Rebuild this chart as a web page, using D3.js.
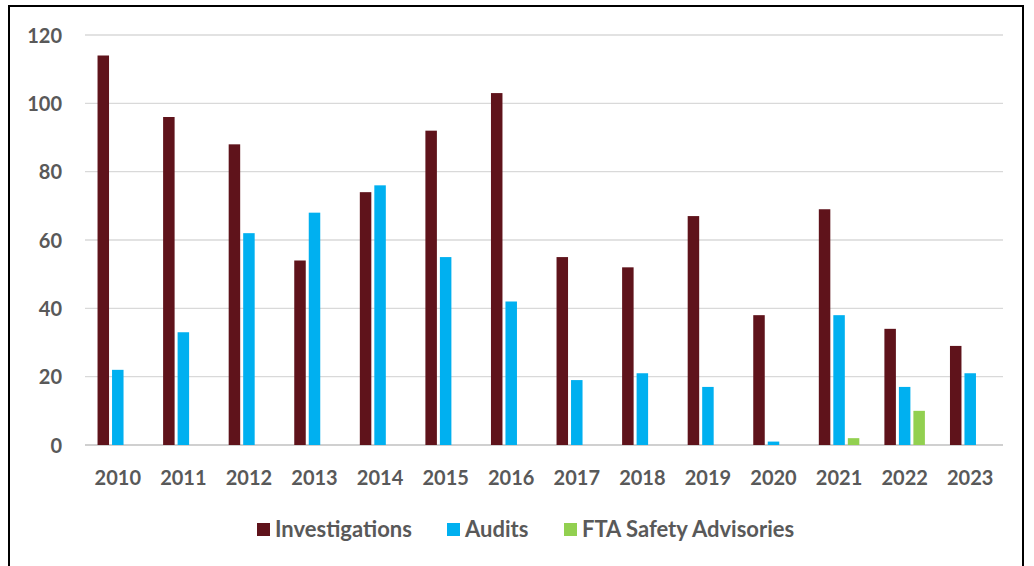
<!DOCTYPE html>
<meta charset="utf-8">
<style>
body { margin: 0; background: #fff; }
text { font-family: Lato, "Open Sans", sans-serif; font-weight: bold; fill: #595959; }
</style>
<body>
<script src="https://d3js.org/d3.v7.min.js"></script>
<script>

// chart data
var years = ["2010","2011","2012","2013","2014","2015","2016","2017","2018","2019","2020","2021","2022","2023"];
var investigations = [114, 96, 88, 54, 74, 92, 103, 55, 52, 67, 38, 69, 34, 29];
var audits = [22, 33, 62, 68, 76, 55, 42, 19, 21, 17, 1, 38, 17, 21];
var advisories = [0, 0, 0, 0, 0, 0, 0, 0, 0, 0, 0, 2, 10, 0];
var seriesNames = ["Investigations", "Audits", "FTA Safety Advisories"];
var colors = ["#5f131b", "#00b0f0", "#92d050"];
var yTicks = [0, 20, 40, 60, 80, 100, 120];

var seriesValues = [investigations, audits, advisories];

var W = 1034, H = 566;
var margin = {top: 35, right: 31, bottom: 121, left: 85},
    width = W - margin.left - margin.right,
    height = H - margin.top - margin.bottom;

var svg = d3.select("body").append("svg")
    .attr("width", W)
    .attr("height", H);

// outer frame
svg.append("rect")
    .attr("x", 9).attr("y", 6)
    .attr("width", 1014).attr("height", 570)
    .attr("fill", "none")
    .attr("stroke", "#000")
    .attr("stroke-width", 2);

var g = svg.append("g")
    .attr("transform", "translate(" + margin.left + "," + margin.top + ")");

var x = d3.scaleBand().domain(years).range([0, width]);
var y = d3.scaleLinear().domain([0, 120]).range([height, 0]);

var barW = 11.5, gap = 3;
var x1 = d3.scaleOrdinal()
    .domain([0, 1, 2])
    .range([0, 1, 2].map(function(i) { return i * (barW + gap) - (3 * barW + 2 * gap) / 2; }));

// gridlines
g.selectAll(".grid")
    .data(yTicks)
  .enter().append("line")
    .attr("x1", 0).attr("x2", width)
    .attr("y1", function(d) { return y(d); })
    .attr("y2", function(d) { return y(d); })
    .attr("stroke", function(d) { return d === 0 ? "#d0d0d0" : "#d9d9d9"; })
    .attr("stroke-width", function(d) { return d === 0 ? 2 : 1.3; });

// y labels
var yAxis = g.append("g")
    .call(d3.axisLeft(y).tickValues(yTicks).tickSize(0).tickPadding(23));
yAxis.select(".domain").remove();
yAxis.selectAll("text").attr("font-size", 20).attr("dy", "0.35em")
    .style("font-family", "Lato, sans-serif").style("fill", "#595959");

// x labels
var xAxis = g.append("g")
    .attr("transform", "translate(0," + height + ")")
    .call(d3.axisBottom(x).tickSize(0).tickPadding(26));
xAxis.select(".domain").remove();
xAxis.selectAll("text").attr("font-size", 20)
    .style("font-family", "Lato, sans-serif").style("fill", "#595959");

// bars
seriesValues.forEach(function(vals, si) {
  g.append("g").selectAll("rect")
      .data(vals.map(function(v, i) { return {year: years[i], value: v}; })
                .filter(function(d) { return d.value > 0; }))
    .enter().append("rect")
      .attr("x", function(d) { return x(d.year) + x.bandwidth() / 2 + x1(si); })
      .attr("width", barW)
      .attr("y", function(d) { return y(d.value); })
      .attr("height", function(d) { return height - y(d.value); })
      .attr("fill", colors[si]);
});

// legend
var legendX = [257, 447, 564];
var legend = svg.append("g");
seriesNames.forEach(function(name, i) {
  legend.append("rect")
      .attr("x", legendX[i]).attr("y", 523)
      .attr("width", 13).attr("height", 13)
      .attr("fill", colors[i]);
  legend.append("text")
      .attr("x", legendX[i] + 18).attr("y", 537)
      .attr("font-size", 22)
      .text(name);
});

</script>
</body>
